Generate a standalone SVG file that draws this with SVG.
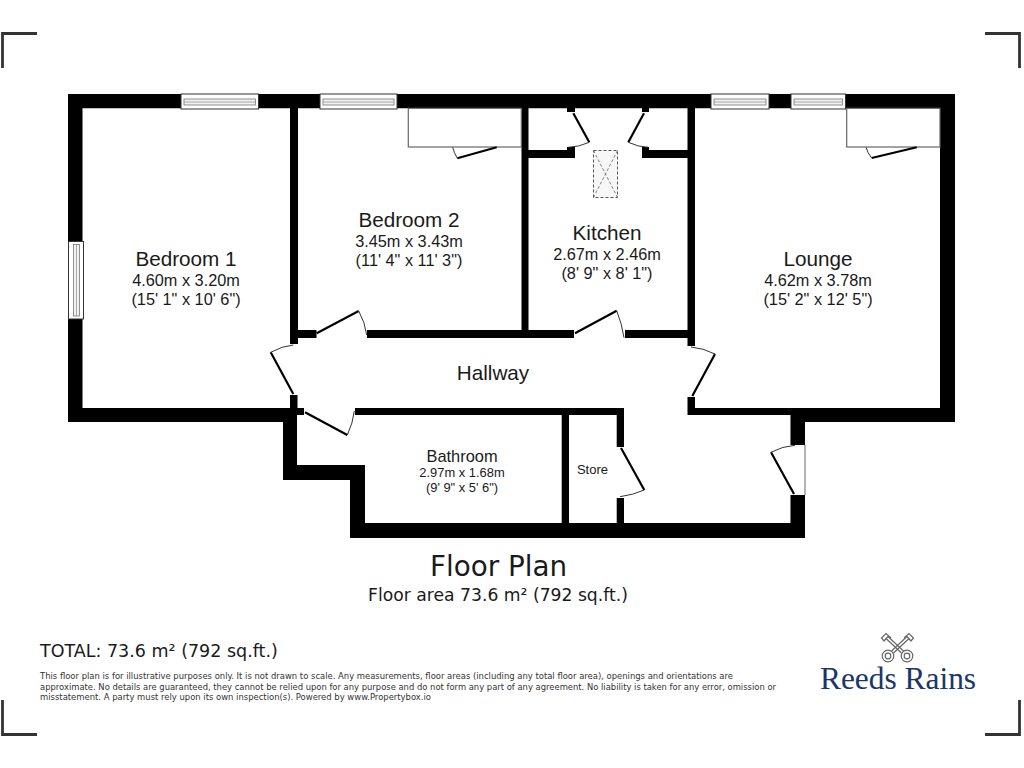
<svg xmlns="http://www.w3.org/2000/svg" width="1024" height="768" viewBox="0 0 1024 768">
<style>
.w{fill:#000}
.leaf{fill:none;stroke:#000;stroke-width:2.2}
.arc{fill:none;stroke:#333;stroke-width:1}
.cup{fill:none;stroke:#666;stroke-width:1.2}
.win{fill:#fff;stroke:#333;stroke-width:1}
.wi{fill:#f1f1f1;stroke:#777;stroke-width:.8}
.crop{fill:none;stroke:#333;stroke-width:2.800}
.a{font-family:"Liberation Sans",Arial,sans-serif;fill:#1a1a1a;text-anchor:middle}
.n{font-size:20.7px}.d{font-size:16.3px}
.v{font-family:"DejaVu Sans",Verdana,sans-serif;fill:#1a1a1a}
.s{font-size:8.45px;fill:#333}
</style>
<rect width="1024" height="768" fill="#fff"/>
<g id="crop-marks">
<path class="crop" d="M37 33.500H2.500V68M985 33.500H1019.500V68M2.500 700V734.500H37M1019.500 700V734.500H985"/>
</g>
<g id="walls">
<path class="w" d="M68 94H955V422H805V538H350V480H283V422H68ZM82.500 108.300V408H304V415H297V465H365V523H790.700V415H695V408H940V108.300Z"/>
<rect class="w" x="290" y="108" width="8" height="236"/>
<rect class="w" x="290" y="330" width="26.500" height="8"/>
<rect class="w" x="367" y="330" width="207" height="8"/>
<rect class="w" x="625" y="330" width="70" height="8"/>
<rect class="w" x="521.500" y="108" width="7" height="230"/>
<rect class="w" x="687.500" y="108" width="7.500" height="238"/>
<rect class="w" x="528" y="150" width="47" height="8"/>
<rect class="w" x="567" y="147" width="8" height="11"/>
<rect class="w" x="642" y="150" width="46" height="8"/>
<rect class="w" x="642" y="147" width="7" height="11"/>
<rect class="w" x="567" y="108" width="8" height="4"/>
<rect class="w" x="642" y="108" width="7" height="4"/>
<rect class="w" x="355" y="408" width="269" height="7"/>
<rect class="w" x="561.700" y="408" width="7.300" height="116"/>
<rect class="w" x="616.700" y="408" width="7.300" height="39"/>
<rect class="w" x="616.700" y="498" width="7.300" height="26"/>
<rect class="w" x="290" y="395" width="7.500" height="20"/>
<rect class="w" x="687.500" y="397" width="7.500" height="18"/>
<rect class="w" x="790.700" y="408" width="14.300" height="37"/>
<rect class="w" x="790.700" y="495" width="14.300" height="43"/>
<rect x="790" y="445" width="15.500" height="50" fill="#fff"/>
<path d="M805 445V495" stroke="#666" stroke-width="1"/>
</g>
<g id="windows">
<g id="window-1"><rect class="win" x="181" y="94" width="77.500" height="15"/><rect class="wi" x="184" y="99" width="71.500" height="6"/><path d="M184 102H255.500" stroke="#999" stroke-width=".8"/></g>
<g id="window-2"><rect class="win" x="320" y="94" width="77" height="15"/><rect class="wi" x="323" y="99" width="71" height="6"/><path d="M323 102H394" stroke="#999" stroke-width=".8"/></g>
<g id="window-3"><rect class="win" x="711" y="94" width="58" height="15"/><rect class="wi" x="714" y="99" width="52" height="6"/><path d="M714 102H766" stroke="#999" stroke-width=".8"/></g>
<g id="window-4"><rect class="win" x="791" y="94" width="54.500" height="15"/><rect class="wi" x="794" y="99" width="48.500" height="6"/><path d="M794 102H842.500" stroke="#999" stroke-width=".8"/></g>
<g id="window-5"><rect class="win" x="68.500" y="241.500" width="15" height="77.500"/><rect class="wi" x="73.500" y="244.500" width="6" height="71.500"/><path d="M76.500 244.500V316" stroke="#999" stroke-width=".8"/></g>
</g>
<g id="fittings">
<rect class="cup" x="408.300" y="108.300" width="113" height="38.700"/>
<rect class="cup" x="846.700" y="108.300" width="93.300" height="38.700"/>
<g id="skylight">
<rect x="593.500" y="150.500" width="24" height="47" fill="#f7f7f7" stroke="#555" stroke-width="1" stroke-dasharray="3 2"/>
<path d="M593.500 150.500L617.500 197.500M617.500 150.500L593.500 197.500" fill="none" stroke="#666" stroke-width=".8" stroke-dasharray="3 2"/>
</g>
</g>
<g id="connectors">
<path class="leaf" d="M293.300 394L270.700 352.300"/><path class="arc" d="M270.700 352.300Q282 346 293.300 345"/>
<path class="leaf" d="M316.700 333.300L358.700 311"/><path class="arc" d="M358.700 311Q365 322 366.700 335"/>
<path class="leaf" d="M305 412.300L347.300 435"/><path class="arc" d="M347.300 435Q353 423 354.300 411"/>
<path class="leaf" d="M575 333.300L616.700 310.700"/><path class="arc" d="M616.700 310.700Q622 324 624 337.700"/>
<path class="leaf" d="M692.300 396L715 354"/><path class="arc" d="M715 354Q703 348 691 347"/>
<path class="leaf" d="M621 448L644.300 490"/><path class="arc" d="M644.300 490Q633 495 620 496.700"/>
<path class="leaf" d="M794 494L771 452.300"/><path class="arc" d="M771 452.300Q783 446 795 445.300"/>
<path class="leaf" d="M573.300 113.300L589.300 142.300"/><path class="arc" d="M589.300 142.300Q579 147 568.300 147.300"/>
<path class="leaf" d="M644 113.300L628.300 142.300"/><path class="arc" d="M628.300 142.300Q638 147 648.300 147.300"/>
<path class="leaf" d="M457.300 158.300L496.700 147.300"/><path class="arc" d="M457.300 158.300Q454 153 452.700 147.300"/>
<path class="leaf" d="M871.700 158L916.700 147.300"/><path class="arc" d="M871.700 158Q867.500 153 866 147.300"/>
</g>
<g id="bedroom-1"><text class="a n" x="186" y="265.700">Bedroom 1</text><text class="a d" x="186" y="285.500">4.60m x 3.20m</text><text class="a d" x="186" y="304.500">(15' 1" x 10' 6")</text></g>
<g id="bedroom-2"><text class="a n" x="409" y="226.700">Bedroom 2</text><text class="a d" x="409" y="246.500">3.45m x 3.43m</text><text class="a d" x="409" y="265.500">(11' 4" x 11' 3")</text></g>
<g id="kitchen"><text class="a n" x="607" y="239.700">Kitchen</text><text class="a d" x="607" y="260">2.67m x 2.46m</text><text class="a d" x="607" y="279">(8' 9" x 8' 1")</text></g>
<g id="lounge"><text class="a n" x="818" y="265.700">Lounge</text><text class="a d" x="818" y="285.500">4.62m x 3.78m</text><text class="a d" x="818" y="304.500">(15' 2" x 12' 5")</text></g>
<g id="hallway"><text class="a n" x="493" y="380">Hallway</text></g>
<g id="bathroom"><text class="a" font-size="16.400" x="462" y="461.500">Bathroom</text><text class="a" font-size="12.900" x="462" y="477">2.97m x 1.68m</text><text class="a" font-size="12.900" x="462" y="492">(9' 9" x 5' 6")</text></g>
<g id="store"><text class="a" font-size="13" x="592.500" y="474">Store</text></g>
<g id="titles">
<text class="v" font-size="27.800" x="498.500" y="576" text-anchor="middle">Floor Plan</text>
<text class="v" font-size="17.200" x="498" y="601" text-anchor="middle">Floor area 73.6 m² (792 sq.ft.)</text>
<text class="v" font-size="17.500" x="40" y="656.500">TOTAL: 73.6 m² (792 sq.ft.)</text>
<text class="v s" x="40" y="679" textLength="693" lengthAdjust="spacingAndGlyphs">This floor plan is for illustrative purposes only. It is not drawn to scale. Any measurements, floor areas (including any total floor area), openings and orientations are</text>
<text class="v s" x="40" y="689.500" textLength="736" lengthAdjust="spacingAndGlyphs">approximate. No details are guaranteed, they cannot be relied upon for any purpose and do not form any part of any agreement. No liability is taken for any error, omission or</text>
<text class="v s" x="40" y="700" textLength="391" lengthAdjust="spacingAndGlyphs">misstatement. A party must rely upon its own inspection(s). Powered by www.Propertybox.io</text>
</g>
<g id="logo">
<g fill="none" stroke="#666" stroke-width="1.200">
<circle cx="888" cy="656" r="5.800"/><circle cx="888" cy="656" r="2.800"/><circle cx="907" cy="656" r="5.800"/><circle cx="907" cy="656" r="2.800"/>
<path d="M891.500 651L907 636.500M893.500 653L909 638.500M903.500 651L888 636.500M901.500 653L886 638.500"/>
<path d="M888 636.500L884 641L881.500 638L886 633.500L891 638M907 636.500L911 641L913.500 638L909 633.500L904 638"/>
</g>
<text x="820" y="689" font-family="'Liberation Serif','Times New Roman',serif" font-size="31.400" fill="#1b3668">Reeds Rains</text>
</g>
</svg>
